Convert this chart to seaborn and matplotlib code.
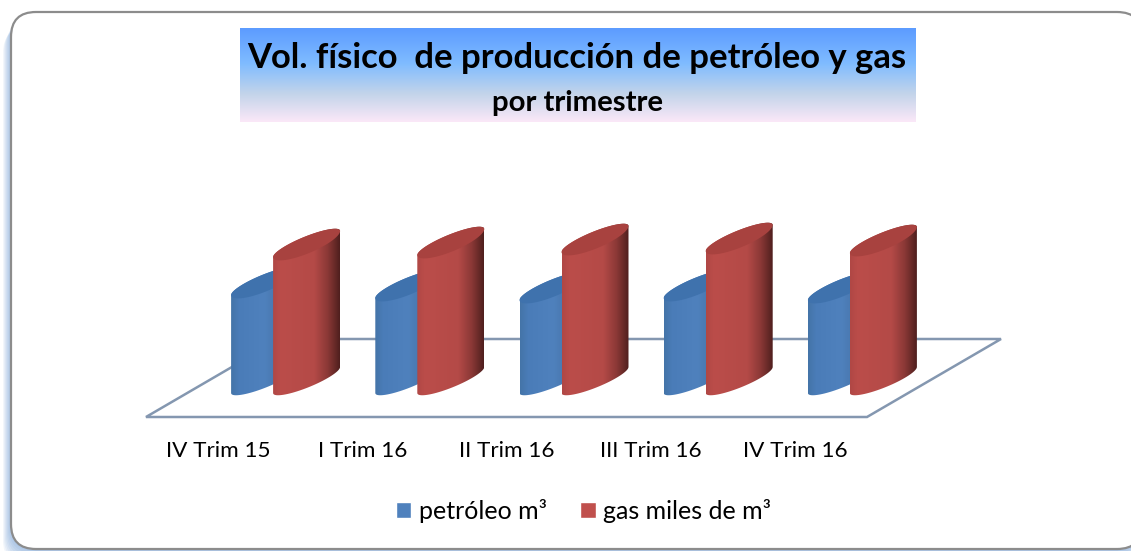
import numpy as np
import pandas as pd
import seaborn as sns
import matplotlib.pyplot as plt
from matplotlib.colors import LinearSegmentedColormap
from matplotlib.patches import FancyBboxPatch, PathPatch, Polygon
from matplotlib.path import Path

trimestres = ['IV Trim 15', 'I Trim 16', 'II Trim 16', 'III Trim 16', 'IV Trim 16']
petroleo = [98, 95, 93, 95, 93]
gas = [136, 138, 141, 142, 140]
serie_petroleo = 'petróleo m³'
serie_gas = 'gas miles de m³'

W, H = 1131, 551
sns.set_theme(style='white')
plt.rcParams['font.family'] = ['Lato', 'DejaVu Sans']

df = pd.DataFrame({
    'trimestre': trimestres * 2,
    'valor': petroleo + gas,
    'serie': [serie_petroleo] * 5 + [serie_gas] * 5,
})

fig = plt.figure(figsize=(W / 100, H / 100), dpi=100)

# background layer in pixels: frame and title band
bg = fig.add_axes([0, 0, 1, 1], zorder=0)
bg.set_xlim(0, W)
bg.set_ylim(H, 0)
bg.axis('off')

# soft blue shadow, the frame shifted down and to the left
for k in range(1, 9):
    bg.add_patch(FancyBboxPatch((11 - k, 12 + 2 * k), 1131, 537, boxstyle='round,pad=0,rounding_size=25',
                                fc='#5b8fd0', ec='none', alpha=0.08))
bg.add_patch(FancyBboxPatch((11, 12), 1131, 537, boxstyle='round,pad=0,rounding_size=25',
                            fc='white', ec='#8c8c8c', lw=1.6))

band = LinearSegmentedColormap.from_list('band', [(0, '#5c9cff'), (0.38, '#80bcff'),
                                                  (0.7, '#c3d4ea'), (1, '#fbe8f8')])
bg.imshow(np.linspace(0, 1, 200).reshape(-1, 1), cmap=band, aspect='auto',
          extent=(240, 916, 122, 28), zorder=2)
bg.set_xlim(0, W)
bg.set_ylim(H, 0)
bg.text(577, 58, 'Vol. físico  de producción de petróleo y gas', ha='center', va='center',
        fontsize=24.9, fontweight='bold', color='black', zorder=3)
bg.text(577, 103, 'por trimestre', ha='center', va='center',
        fontsize=21.2, fontweight='bold', color='black', zorder=3)

# chart axes: one y unit is one pixel, floor front edge is the x axis
ax = fig.add_axes([146 / W, (H - 417) / H, 721 / W, 277 / H], zorder=1)
ax.patch.set_alpha(0)
sns.barplot(data=df, x='trimestre', y='valor', hue='serie', width=0.5825, gap=0,
            palette=['#4F81BD', '#C0504D'], saturation=1, ax=ax)
ax.set_xlim(-0.5, 4.5)
ax.set_ylim(0, 277)
ax.set_xlabel('')
ax.set_ylabel('')
ax.set_yticks([])
ax.tick_params(axis='x', length=0, pad=17, labelsize=16.2, labelcolor='black')
sns.despine(ax=ax, left=True, bottom=True)

sns.move_legend(ax, 'center', bbox_to_anchor=(583.5 / W, (H - 511) / H),
                bbox_transform=fig.transFigure, ncol=2, title=None, frameon=False,
                fontsize=18, handlelength=0.62, handleheight=0.62, handletextpad=0.3,
                columnspacing=1.35)
for t in ax.get_legend().get_texts():
    t.set_color('black')

px = (ax.get_xlim()[1] - ax.get_xlim()[0]) / 721  # x data units per pixel

# floor, in perspective
depth_x, depth_y = 134 * px, 78
floor = Polygon([(-0.5, 0), (4.5, 0), (4.5 + depth_x, depth_y), (-0.5 + depth_x, depth_y)],
                closed=True, fc='none', ec='#8497b0', lw=1.8, clip_on=False, zorder=1)
ax.add_patch(floor)

shade_azul = LinearSegmentedColormap.from_list('azul', [(0, '#4474a8'), (0.12, '#4a7cb8'), (0.5, '#4f81bd'),
                                                        (0.75, '#4673a8'), (1, '#24405f')])
shade_rojo = LinearSegmentedColormap.from_list('rojo', [(0, '#b04745'), (0.12, '#bb4d4a'), (0.62, '#b44a47'),
                                                        (0.82, '#8a3836'), (1, '#4f1f1e')])
tapas = ['#3f72ad', '#a8423f']


def curva(x0, w, y0, rise, bulge, t0, t1):
    # skewed half ellipse between the two sides of the cylinder
    t = np.linspace(t0, t1, 40)
    u = (1 + np.cos(t)) / 2
    return np.column_stack([x0 + w * u, y0 + rise * u + bulge * np.sin(t)])


def cilindro(bar, cmap, tapa, z):
    x0 = bar.get_x() + 55 * px
    w = bar.get_width() * 67 / 42
    base = 24
    top = base + bar.get_height()
    rise = 26
    # front of the body: down the left, along the bottom, up the right, back over the top
    up = curva(x0, w, top, rise, 8, np.pi, 0)
    low = curva(x0, w, base, rise, -8, np.pi, 0)
    verts = np.vstack([up[::-1], low, up[-1:]])
    body = PathPatch(Path(verts), fc='none', ec='none', clip_on=False, zorder=z)
    ax.add_patch(body)
    im = ax.imshow(np.linspace(0, 1, 256).reshape(1, -1), cmap=cmap, aspect='auto',
                   extent=(x0, x0 + w, base - 10, top + rise + 12), zorder=z)
    im.set_clip_path(body)
    im.set_clip_box(fig.bbox)
    cap = np.vstack([up, curva(x0, w, top, rise, 10, 0, -np.pi)])
    ax.add_patch(Polygon(cap, closed=True, fc=tapa, ec='none', zorder=z + 0.1, clip_on=False))


z = 2
for i in range(len(trimestres)):
    for cont, cmap, tapa in zip(ax.containers, [shade_azul, shade_rojo], tapas):
        cilindro(cont[i], cmap, tapa, z)
        z += 1

# the flat seaborn bars stay as the source of the geometry only
for cont in ax.containers:
    for bar in cont:
        bar.set_visible(False)

ax.set_xlim(-0.5, 4.5)
ax.set_ylim(0, 277)
ax.set_aspect('auto')

fig.savefig('out.png', dpi=100)
